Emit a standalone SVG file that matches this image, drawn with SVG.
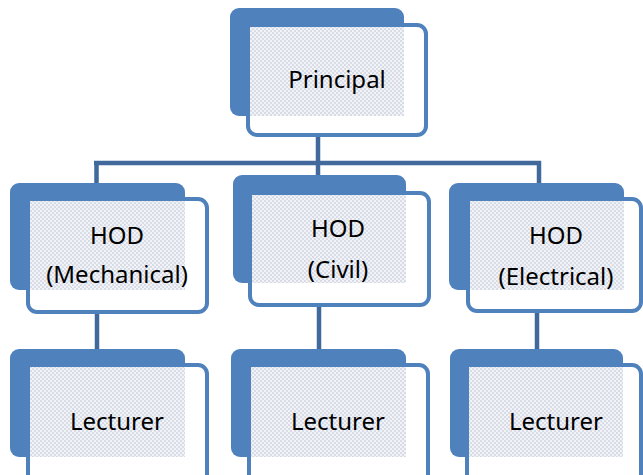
<svg xmlns="http://www.w3.org/2000/svg" width="643" height="475" viewBox="0 0 643 475">
<style>
.back{fill:#4F81BD;}
.front{fill:#ffffff;stroke:#4F81BD;stroke-width:4;}
.pat{fill:url(#hatch);}
.conn{stroke:#41699C;stroke-width:4.5;fill:none;}
.lbl{font-family:"Noto Sans","Open Sans","Liberation Sans",sans-serif;font-size:24px;fill:#000;text-anchor:middle;}
</style>
<defs>
<pattern id="hatch" width="4" height="4" patternUnits="userSpaceOnUse">
<rect width="4" height="4" fill="#f1f3f7"/>
<path d="M0 0h2v2H0zM2 2h2v2H2z" fill="#d8dce6"/>
</pattern>
</defs>
<rect width="643" height="475" fill="#ffffff"/>
<g id="connectors">
<line class="conn" x1="318" y1="137" x2="318" y2="163"/>
<line class="conn" x1="94" y1="163" x2="541" y2="163"/>
<line class="conn" x1="96.5" y1="161" x2="96.5" y2="184"/>
<line class="conn" x1="318" y1="161" x2="318" y2="176"/>
<line class="conn" x1="539" y1="161" x2="539" y2="184"/>
<line class="conn" x1="97" y1="312" x2="97" y2="350"/>
<line class="conn" x1="319" y1="305" x2="319" y2="350"/>
<line class="conn" x1="537" y1="311" x2="537" y2="350"/>
</g>
<g id="principal">
<rect class="back" x="230" y="8" width="174" height="108" rx="9"/>
<rect class="front" x="248" y="25" width="178" height="110" rx="9"/>
<rect class="pat" x="250" y="27" width="154" height="89"/>
<text class="lbl" x="337" y="88">Principal</text>
</g>
<g id="hod-mechanical">
<rect class="back" x="10" y="183" width="175" height="107" rx="9"/>
<rect class="front" x="28" y="199" width="179" height="113" rx="9"/>
<rect class="pat" x="30" y="201" width="155" height="89"/>
<text class="lbl" x="117" y="244">HOD</text>
<text class="lbl" x="117" y="283">(Mechanical)</text>
</g>
<g id="hod-civil">
<rect class="back" x="233" y="175" width="173" height="108" rx="9"/>
<rect class="front" x="250" y="193" width="179" height="112" rx="9"/>
<rect class="pat" x="252" y="195" width="154" height="88"/>
<text class="lbl" x="338" y="237">HOD</text>
<text class="lbl" x="338" y="278">(Civil)</text>
</g>
<g id="hod-electrical">
<rect class="back" x="449" y="183" width="175" height="107" rx="9"/>
<rect class="front" x="468" y="199" width="173" height="112" rx="9"/>
<rect class="pat" x="470" y="201" width="154" height="89"/>
<text class="lbl" x="556" y="244">HOD</text>
<text class="lbl" x="556" y="285">(Electrical)</text>
</g>
<g id="lecturer-mechanical">
<rect class="back" x="10" y="349" width="175" height="108" rx="9"/>
<rect class="front" x="28" y="365" width="179" height="125" rx="9"/>
<rect class="pat" x="30" y="367" width="155" height="90"/>
<text class="lbl" x="117" y="430">Lecturer</text>
</g>
<g id="lecturer-civil">
<rect class="back" x="231" y="349" width="175" height="108" rx="9"/>
<rect class="front" x="249" y="365" width="179" height="125" rx="9"/>
<rect class="pat" x="251" y="367" width="155" height="90"/>
<text class="lbl" x="338" y="430">Lecturer</text>
</g>
<g id="lecturer-electrical">
<rect class="back" x="450" y="349" width="173" height="108" rx="9"/>
<rect class="front" x="467" y="365" width="174" height="125" rx="9"/>
<rect class="pat" x="469" y="367" width="154" height="90"/>
<text class="lbl" x="556" y="430">Lecturer</text>
</g>
</svg>
